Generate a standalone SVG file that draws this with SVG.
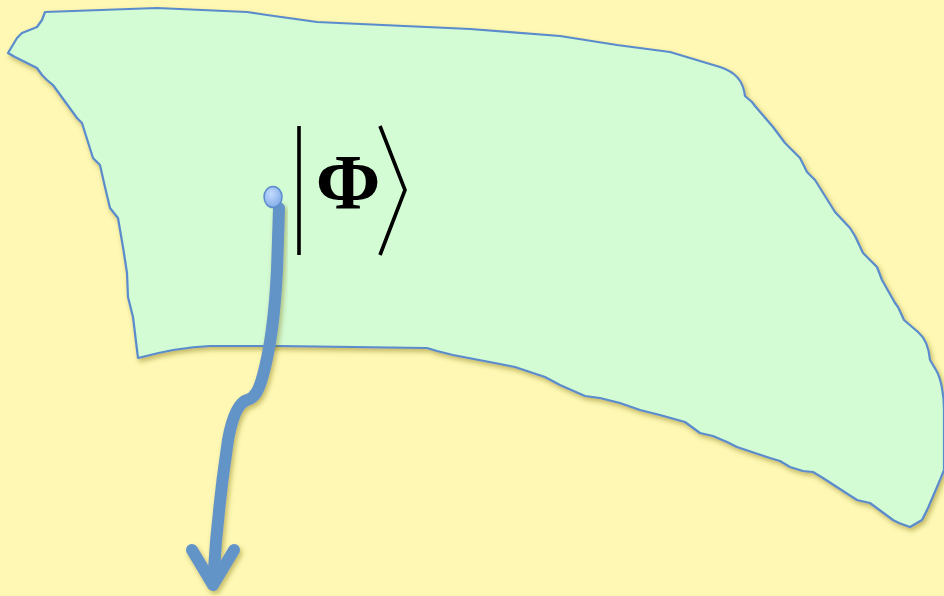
<svg xmlns="http://www.w3.org/2000/svg" width="944" height="596" viewBox="0 0 944 596">
<defs>
<filter id="sh" x="-10%" y="-10%" width="120%" height="120%">
<feDropShadow dx="2" dy="3" stdDeviation="2.5" flood-color="#7a6a10" flood-opacity="0.45"/>
</filter>
<radialGradient id="dotg" cx="0.4" cy="0.35" r="0.7">
<stop offset="0" stop-color="#c3dcff"/>
<stop offset="1" stop-color="#7fa9e6"/>
</radialGradient>
<style>
.region{fill:#d3fbd4;stroke:#5a8ccc;stroke-width:2.2;stroke-linejoin:round}
.arrow{fill:none;stroke:#6494c8;stroke-width:12;stroke-linecap:round;stroke-linejoin:round}
.ket{fill:none;stroke:#000;stroke-width:3.6}
.phi{font-family:"Liberation Serif","Times New Roman",serif;font-size:78px;font-weight:bold;fill:#000}
</style>
</defs>
<rect width="944" height="596" fill="#fef8b4"/>
<g id="region" filter="url(#sh)">
<path class="region" d="M45,12 L157,8 L247,12 L267,15 L317,22 L470,29 L560,36 L617,45 L670,52 L720,67 C735,72 743,80 745,96 L752,102 L755,106 L773,127 L785,143 L800,158 L807,172 L815,180 L835,212 L850,228 L855,236 L863,253 L877,267 L882,280 L895,303 L898,307 L904,320 L918,332 C925,338 929,348 930,360 L936,370 C941,378 944,395 944,410 L944,470 L940,480 L928,508 L922,520 L910,527 L899,523 L893,520 L870,503 L857,500 L843,491 L823,478 L813,472 L803,471 L790,467 L780,461 L770,458 L737,447 L727,442 L713,436 L700,433 L685,422 L660,415 L640,410 L620,403 L600,398 L585,396 L560,385 L545,377 L515,367 L500,364 L453,355 L437,351 L427,348 L280,346 L210,346 C185,347 160,352 138,358 L133,317 L128,297 L127,273 L123,247 L118,218 L110,208 L105,187 L100,165 L93,158 L82,123 L77,118 L53,85 L47,80 L42,75 L37,68 L15,57 L8,53 L17,38 L22,33 L37,27 L42,20 Z"/>
</g>
<g id="ket">
<line class="ket" x1="299" y1="126" x2="299" y2="255"/>
<text class="phi" x="348" y="208" text-anchor="middle">Φ</text>
<polyline class="ket" points="380,126 405,190 380,255"/>
</g>
<g id="connectors" filter="url(#sh)">
<path class="arrow" d="M279,208 L277,270 C275,310 270,350 263,375 C259,390 255,398 247,400 C238,403 232,418 228,440 C222,480 216,530 213,584"/>
<polyline class="arrow" points="192,550 213,585 234,550"/>
</g>
<g id="dot">
<ellipse cx="273" cy="197" rx="9" ry="10.5" fill="url(#dotg)" stroke="#5a8ccc" stroke-width="1.5"/>
</g>
</svg>
